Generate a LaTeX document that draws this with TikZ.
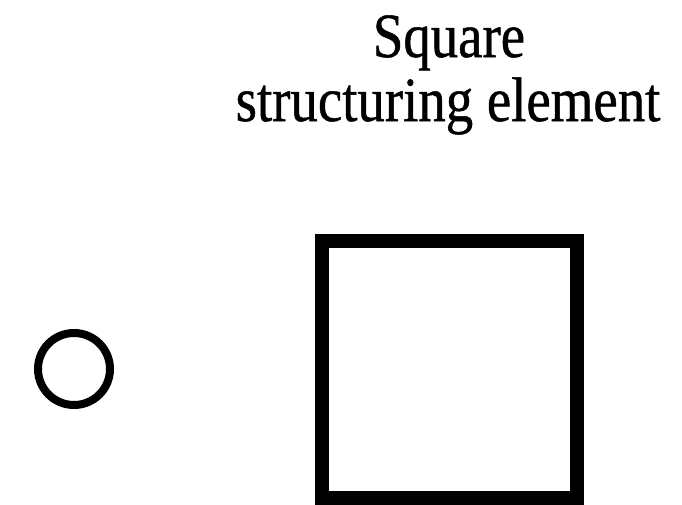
\documentclass[tikz,border=0pt]{standalone}
\usepackage{fontspec}
\setmainfont{Liberation Serif}
\newfontfamily\titlefont{Liberation Serif}[FakeBold=0.8]
\usepackage{graphicx}
\usepackage{tikz}
\usetikzlibrary{positioning}
\tikzset{
  title/.style={anchor=base,inner sep=0pt,font=\titlefont\fontsize{63}{64}\selectfont},
  dotmark/.style={draw=black,circle,line width=8pt,minimum size=72pt,inner sep=0pt},
  sebox/.style={draw=black,line width=14pt,minimum width=255pt,
    minimum height=257pt,inner sep=0pt}
}

\begin{document}
\begin{tikzpicture}[x=1pt,y=-1pt]
\useasboundingbox (0,0) rectangle (682,504);

% Title
\node[title] (tline1) at (449,57) {\scalebox{0.87}[1]{Square}};
\node[title] (tline2) at (448,121) {\scalebox{0.87}[1]{structuring element}};

% Shapes
\node[dotmark] (dot) at (74,369) {};
\node[sebox] (sq) at (449,369.5) {};

\end{tikzpicture}
\end{document}
